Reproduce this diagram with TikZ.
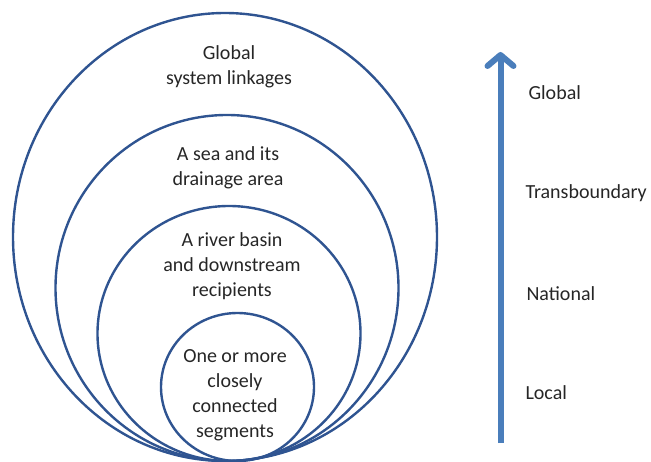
\documentclass[tikz,border=0pt]{standalone}
\usepackage{fontspec}
\setmainfont{Carlito}
\usetikzlibrary{arrows.meta}
\definecolor{ringblue}{RGB}{47,84,145}
\definecolor{arrowblue}{RGB}{74,126,187}
\definecolor{textgray}{RGB}{38,38,38}
\begin{document}
\begin{tikzpicture}[x=1pt, y=-1pt, every node/.style={font=\fontsize{20}{25}\selectfont, text=textgray, align=center}]
			\useasboundingbox (0,0) rectangle (651,462);

			% Nested rings
			\draw[ringblue,line width=2.4pt] (225,237) ellipse (212 and 224);
			\draw[ringblue,line width=2.4pt] (227,288) ellipse (171.5 and 173);
			\draw[ringblue,line width=2.4pt] (229,333.5) ellipse (131.5 and 127.5);
			\draw[ringblue,line width=2.4pt] (237.5,387) ellipse (76.5 and 74);

			% Ring labels
			\node (global) at (229,67) {Global\\system linkages};
			\node (sea) at (228,168) {A sea and its\\drainage area};
			\node (river) at (232,266) {A river basin\\and downstream\\recipients};
			\node (segments) at (235,395) {One or more\\closely\\connected\\segments};

			% Scale arrow
			\coordinate (bottom) at (500.5,443);
			\coordinate (top) at (500.5,52);
			\draw[arrowblue,line width=6pt,-{Straight Barb[round,length=11pt,width=26pt]}] (bottom) -- (top);

			% Scale labels
			\node[anchor=west] (lglobal) at (525,93) {Global};
			\node[anchor=west] (ltrans) at (522,193) {Transboundary};
			\node[anchor=west] (lnational) at (523,294) {National};
			\node[anchor=west] (llocal) at (522,393) {Local};
		\end{tikzpicture}
\end{document}
